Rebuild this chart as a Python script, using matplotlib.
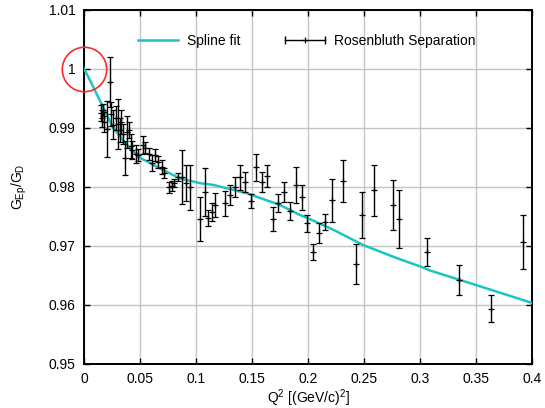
import numpy as np
import matplotlib
matplotlib.use('Agg')
from matplotlib import pyplot as plt
from matplotlib.lines import Line2D

plt.rcParams['font.family'] = ['Liberation Sans', 'DejaVu Sans']
plt.rcParams['mathtext.default'] = 'regular'

#####################################
# Data
q2 = [0.0152, 0.0161, 0.0170, 0.0179, 0.0205, 0.0232, 0.0241, 0.0259, 0.0286, 0.0304,
      0.0321, 0.0330, 0.0348, 0.0366, 0.0384, 0.0402, 0.0420, 0.0429, 0.0464, 0.0482,
      0.0527, 0.0545, 0.0580, 0.0607, 0.0634, 0.0661, 0.0696, 0.0714, 0.0759, 0.0786,
      0.0804, 0.0839, 0.0875, 0.0911, 0.0946, 0.1036, 0.1080, 0.1107, 0.1143, 0.1170,
      0.1259, 0.1304, 0.1348, 0.1393, 0.1438, 0.1491, 0.1536, 0.1589, 0.1634, 0.1688,
      0.1732, 0.1786, 0.1839, 0.1893, 0.1946, 0.1991, 0.2045, 0.2098, 0.2152, 0.2214,
      0.2313, 0.2429, 0.2482, 0.2589, 0.2759, 0.2813, 0.3063, 0.3348, 0.3634, 0.3917]
gep = [0.9925, 0.9916, 0.9930, 0.9910, 0.9898, 0.9977, 0.9923, 0.9905, 0.9916, 0.9906,
       0.9896, 0.9910, 0.9889, 0.9849, 0.9893, 0.9896, 0.9869, 0.9862, 0.9855, 0.9854,
       0.9871, 0.9866, 0.9855, 0.9840, 0.9854, 0.9842, 0.9833, 0.9823, 0.9799, 0.9801,
       0.9806, 0.9816, 0.9816, 0.9806, 0.9799, 0.9745, 0.9791, 0.9747, 0.9757, 0.9769,
       0.9772, 0.9786, 0.9799, 0.9816, 0.9808, 0.9776, 0.9833, 0.9808, 0.9818, 0.9745,
       0.9772, 0.9791, 0.9759, 0.9803, 0.9782, 0.9738, 0.9689, 0.9721, 0.9740, 0.9777,
       0.9810, 0.9669, 0.9752, 0.9794, 0.9769, 0.9745, 0.9689, 0.9642, 0.9593, 0.9706]
err = [0.0014, 0.0014, 0.0010, 0.0017, 0.0048, 0.0042, 0.0020, 0.0025, 0.0020, 0.0042,
       0.0020, 0.0020, 0.0017, 0.0029, 0.0027, 0.0014, 0.0020, 0.0015, 0.0015, 0.0010,
       0.0015, 0.0009, 0.0010, 0.0014, 0.0010, 0.0010, 0.0012, 0.0009, 0.0009, 0.0009,
       0.0007, 0.0007, 0.0046, 0.0030, 0.0038, 0.0037, 0.0041, 0.0013, 0.0015, 0.0021,
       0.0021, 0.0017, 0.0017, 0.0021, 0.0017, 0.0012, 0.0023, 0.0017, 0.0019, 0.0020,
       0.0015, 0.0017, 0.0015, 0.0030, 0.0021, 0.0014, 0.0014, 0.0017, 0.0014, 0.0036,
       0.0036, 0.0034, 0.0039, 0.0043, 0.0043, 0.0049, 0.0024, 0.0025, 0.0023, 0.0046]

spline_q2 = [0.0, 0.0036, 0.0155, 0.0259, 0.0408, 0.05, 0.0571, 0.0679, 0.0857, 0.1036,
             0.1155, 0.1452, 0.175, 0.1929, 0.2018, 0.2226, 0.2494, 0.2792, 0.30, 0.3089,
             0.3506, 0.40]
spline_g = [1.0, 0.9987, 0.9941, 0.9900, 0.9865, 0.9849, 0.9842, 0.9831, 0.9814, 0.9806,
            0.9803, 0.9789, 0.9769, 0.9752, 0.9745, 0.9727, 0.9701, 0.9679, 0.9665, 0.9658,
            0.9633, 0.9603]
#####################################


# legend sample drawn like gnuplot: |--+--|
class ErrHandler:
    def legend_artist(self, legend, orig_handle, fontsize, handlebox):
        x0, y0 = handlebox.xdescent, handlebox.ydescent
        w, h = handlebox.width, handlebox.height
        y = y0 + h / 2
        t = handlebox.get_transform()
        lines = [
            Line2D([x0, x0 + w], [y, y], color='black', lw=1.0, transform=t),
            Line2D([x0, x0 + w], [y, y], color='black', lw=0, marker='|', ms=6, mew=1.0, transform=t),
            Line2D([x0 + w / 2], [y], color='black', lw=0, marker='+', ms=4, mew=0.9, transform=t),
        ]
        for l in lines:
            handlebox.add_artist(l)
        return lines[0]


fig = plt.figure()
fig.set_dpi(100)
fig.set_size_inches(5.45, 4.08)
ax = fig.add_axes([84/545, 1 - 363.7/408, 448/545, 354/408])

spl, = ax.plot(spline_q2, spline_g, color='#1cc4c4', lw=1.8, zorder=3)
eb = ax.errorbar(q2, gep, yerr=err, fmt='+', color='black', ms=4, mew=0.9,
                 elinewidth=1.0, capsize=2.5, capthick=1.0, zorder=4)

# red circle around (0, 1)
ax.plot([0], [1.0], 'o', ms=32, mfc='none', mec='#ff2a2a', mew=1.2, clip_on=False, zorder=5)

ax.set_xlim(0, 0.4)
ax.set_ylim(0.95, 1.01)
ax.set_xticks(np.arange(0, 0.401, 0.05))
ax.set_xticklabels(['0', '0.05', '0.1', '0.15', '0.2', '0.25', '0.3', '0.35', '0.4'])
ax.set_yticks(np.arange(0.95, 1.0101, 0.01))
ax.set_yticklabels(['0.95', '0.96', '0.97', '0.98', '0.99', '1', '1.01'])
ax.grid(True, color='#c4c4c4', lw=1.0)
ax.set_axisbelow(True)
ax.tick_params(direction='in', top=True, right=True, length=4, width=1,
               labelsize=10, pad=6)
for s in ax.spines.values():
    s.set_linewidth(1.4)

ax.set_xlabel('Q$^2$ [(GeV/c)$^2$]', fontsize=10, labelpad=1)
ax.set_ylabel('G$_{Ep}$/G$_D$', fontsize=10, labelpad=14)

leg = ax.legend([spl, eb], ['Spline fit', 'Rosenbluth Separation'], ncol=2, frameon=False,
                loc='center left', bbox_to_anchor=(0.12, 0.912), fontsize=10,
                handlelength=2.9, columnspacing=3.2, handletextpad=0.65,
                borderaxespad=0, borderpad=0, handler_map={type(eb): ErrHandler()})

fig.savefig('out.png', dpi=100)
